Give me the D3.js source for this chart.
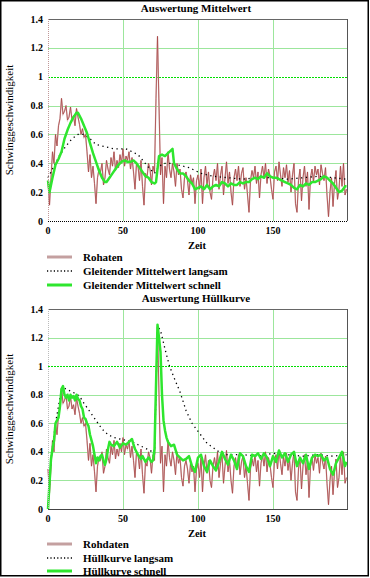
<!DOCTYPE html>
<html>
<head>
<meta charset="utf-8">
<script src="https://cdn.jsdelivr.net/npm/d3@7"></script>
<style>
  body { margin: 0; background: #fff; }
</style>
</head>
<body>
<div id="chart"></div>
<script>
// raw measurement, one value per time step 0..199
let raw = [
  0.28, 0.11, 0.3, 0.48, 0.4, 0.6, 0.52, 0.66, 0.71, 0.85,
  0.74, 0.76, 0.8, 0.7, 0.72, 0.79, 0.7, 0.73, 0.66, 0.78,
  0.72, 0.67, 0.6, 0.64, 0.58, 0.6, 0.48, 0.34, 0.46, 0.3,
  0.38, 0.26, 0.12, 0.3, 0.36, 0.34, 0.4, 0.25, 0.3, 0.42,
  0.36, 0.32, 0.44, 0.38, 0.48, 0.35, 0.42, 0.37, 0.46, 0.4,
  0.5, 0.38, 0.45, 0.42, 0.48, 0.36, 0.44, 0.34, 0.22, 0.4,
  0.38, 0.28, 0.42, 0.24, 0.11, 0.33, 0.3, 0.4, 0.36, 0.25,
  0.38, 0.34, 0.85, 1.28, 0.8, 0.32, 0.44, 0.12, 0.38, 0.3,
  0.48, 0.36, 0.3, 0.4, 0.34, 0.24, 0.4, 0.32, 0.36, 0.22,
  0.16, 0.3, 0.34, 0.28, 0.18, 0.32, 0.26, 0.3, 0.12, 0.28,
  0.32, 0.22, 0.36, 0.12, 0.3, 0.38, 0.25, 0.34, 0.2, 0.15,
  0.3, 0.36, 0.28, 0.4, 0.22, 0.32, 0.38, 0.18, 0.3, 0.41,
  0.26, 0.34, 0.2, 0.11, 0.3, 0.36, 0.28, 0.38, 0.24, 0.33,
  0.37, 0.22, 0.3, 0.18, 0.06, 0.28, 0.35, 0.3, 0.38, 0.26,
  0.34, 0.16, 0.32, 0.38, 0.3, 0.4, 0.26, 0.36, 0.31, 0.22,
  0.15, 0.34, 0.38, 0.28, 0.41, 0.32, 0.24, 0.37, 0.3, 0.39,
  0.27, 0.35, 0.2, 0.32, 0.4, 0.12, 0.06, 0.28, 0.36, 0.14,
  0.3, 0.38, 0.24, 0.34, 0.08, 0.3, 0.36, 0.27, 0.38, 0.32,
  0.36, 0.25, 0.39, 0.33, 0.28, 0.37, 0.18, 0.03, 0.2, 0.3,
  0.1, 0.26, 0.35, 0.15, 0.22, 0.38, 0.24, 0.4, 0.18, 0.22
];

// [zeit, wert] pairs
let meanSlow = [
  [0, 0.3], [4, 0.38], [8, 0.46], [12, 0.52], [16, 0.57], [20, 0.6], [24, 0.6],
  [28, 0.57], [32, 0.53], [36, 0.52], [40, 0.51], [44, 0.5], [48, 0.5], [52, 0.5],
  [56, 0.48], [60, 0.46], [64, 0.41], [68, 0.36], [71, 0.33], [74, 0.38], [78, 0.4],
  [82, 0.4], [86, 0.39], [90, 0.38], [94, 0.37], [98, 0.35], [102, 0.33], [106, 0.32],
  [110, 0.31], [120, 0.3], [130, 0.29], [140, 0.3], [150, 0.3], [160, 0.29],
  [170, 0.3], [180, 0.31], [190, 0.3], [199, 0.29]
];

let meanFast = [
  [0, 0.28], [1, 0.2], [3, 0.3], [5, 0.39], [7, 0.43], [9, 0.48], [11, 0.57], [13, 0.63],
  [15, 0.68], [17, 0.72], [19, 0.75], [20, 0.75], [22, 0.71], [24, 0.66], [26, 0.61],
  [28, 0.54], [30, 0.47], [32, 0.41], [34, 0.35], [36, 0.3], [38, 0.27], [39, 0.27],
  [41, 0.3], [43, 0.33], [45, 0.36], [47, 0.39], [49, 0.41], [51, 0.42], [53, 0.41],
  [55, 0.41], [57, 0.42], [59, 0.4], [61, 0.37], [63, 0.34], [65, 0.31], [67, 0.3],
  [69, 0.27], [71, 0.26], [72, 0.27], [74, 0.45], [76, 0.46], [78, 0.45], [80, 0.47],
  [82, 0.49], [83, 0.5], [84, 0.4], [86, 0.36], [88, 0.33], [90, 0.33], [92, 0.31],
  [94, 0.28], [96, 0.26], [98, 0.22], [100, 0.23], [102, 0.24], [104, 0.22], [106, 0.25],
  [108, 0.22], [110, 0.24], [112, 0.25], [114, 0.24], [116, 0.27], [118, 0.26],
  [120, 0.24], [122, 0.26], [124, 0.25], [126, 0.25], [128, 0.27], [130, 0.26],
  [132, 0.27], [134, 0.27], [136, 0.29], [138, 0.3], [140, 0.29], [142, 0.31],
  [144, 0.3], [146, 0.33], [148, 0.31], [150, 0.3], [152, 0.3], [154, 0.29],
  [156, 0.28], [158, 0.27], [160, 0.26], [162, 0.25], [164, 0.23], [166, 0.22],
  [168, 0.25], [170, 0.24], [172, 0.26], [174, 0.25], [176, 0.27], [178, 0.27],
  [180, 0.28], [182, 0.29], [184, 0.31], [186, 0.3], [188, 0.28], [190, 0.26],
  [192, 0.23], [194, 0.2], [196, 0.21], [198, 0.24], [199, 0.24]
];

let envSlow = [
  [0, 0], [2, 0.35], [5, 0.6], [9, 0.84], [10, 0.85], [14, 0.83], [18, 0.81], [21, 0.79],
  [24, 0.74], [28, 0.68], [32, 0.62], [36, 0.56], [40, 0.52], [44, 0.5], [48, 0.49],
  [52, 0.48], [56, 0.47], [60, 0.45], [64, 0.43], [68, 0.41], [71, 0.39], [73, 1.28],
  [75, 1.25], [78, 1.12], [81, 1.0], [84, 0.92], [88, 0.82], [92, 0.69], [96, 0.6],
  [101, 0.53], [106, 0.46], [110, 0.43], [114, 0.4], [119, 0.38], [130, 0.38],
  [140, 0.37], [150, 0.39], [160, 0.38], [170, 0.37], [180, 0.38], [190, 0.37], [199, 0.38]
];

let envFast = [
  [0, 0], [1, 0.18], [2, 0.35], [3, 0.42], [4, 0.48], [5, 0.6], [6, 0.62], [7, 0.64],
  [8, 0.72], [9, 0.84], [10, 0.86], [11, 0.8], [12, 0.78], [13, 0.8], [14, 0.76],
  [15, 0.8], [16, 0.78], [17, 0.79], [18, 0.76], [19, 0.8], [20, 0.77], [21, 0.76],
  [22, 0.72], [23, 0.7], [24, 0.64], [25, 0.63], [26, 0.6], [27, 0.58], [28, 0.52],
  [29, 0.48], [30, 0.44], [31, 0.38], [32, 0.32], [33, 0.36], [34, 0.34], [35, 0.37],
  [36, 0.38], [37, 0.34], [38, 0.31], [39, 0.35], [40, 0.42], [41, 0.47], [42, 0.45],
  [44, 0.44], [46, 0.47], [48, 0.43], [50, 0.46], [52, 0.45], [54, 0.47], [56, 0.49],
  [57, 0.45], [58, 0.42], [60, 0.38], [62, 0.35], [63, 0.37], [65, 0.33], [67, 0.36],
  [69, 0.33], [70, 0.34], [71, 0.42], [72, 0.86], [73, 1.29], [74, 1.2], [75, 1.1],
  [76, 0.8], [77, 0.62], [78, 0.55], [79, 0.5], [80, 0.47], [82, 0.44], [84, 0.45],
  [86, 0.38], [88, 0.36], [90, 0.34], [92, 0.35], [94, 0.37], [96, 0.3], [98, 0.26],
  [100, 0.36], [102, 0.38], [104, 0.3], [106, 0.26], [108, 0.34], [110, 0.3], [112, 0.27],
  [114, 0.33], [116, 0.4], [118, 0.35], [120, 0.31], [122, 0.38], [124, 0.34], [126, 0.28],
  [128, 0.39], [130, 0.37], [132, 0.3], [134, 0.26], [136, 0.38], [138, 0.37], [140, 0.39],
  [142, 0.35], [144, 0.39], [146, 0.36], [148, 0.3], [150, 0.37], [152, 0.33], [154, 0.41],
  [156, 0.36], [158, 0.39], [160, 0.33], [162, 0.38], [164, 0.4], [166, 0.3], [168, 0.36],
  [170, 0.32], [172, 0.38], [174, 0.28], [176, 0.36], [178, 0.38], [180, 0.37], [182, 0.38],
  [184, 0.34], [186, 0.36], [188, 0.28], [190, 0.24], [192, 0.32], [194, 0.36], [196, 0.4],
  [198, 0.3], [199, 0.33]
];

let xTicks = [0, 50, 100, 150];
let yTicks = [0, 0.2, 0.4, 0.6, 0.8, 1, 1.2, 1.4];
let yTickLabels = ["0", "0.2", "0.4", "0.6", "0.8", "1", "1.2", "1.4"];

let W = 370, H = 578;
let svg = d3.select("#chart").append("svg")
    .attr("width", W)
    .attr("height", H)
    .attr("font-family", "'Liberation Serif', 'DejaVu Serif', 'Times New Roman', serif");

let rawPts = raw.map(function(v, i) { return [i, v]; });

function drawPanel(p) {
  let x = d3.scaleLinear().domain([0, 200]).range([48, 348]);
  let y = d3.scaleLinear().domain([0, 1.4]).range([p.bottom, p.top]);
  let g = svg.append("g");

  // gridlines
  g.selectAll(".hg").data(yTicks.filter(function(d) { return d > 0 && d < 1.4; }))
    .enter().append("line")
      .attr("x1", x(0)).attr("x2", x(200))
      .attr("y1", function(d) { return Math.round(y(d)) + 0.5; })
      .attr("y2", function(d) { return Math.round(y(d)) + 0.5; })
      .attr("stroke", function(d) { return d === 1 ? "#00dd00" : "#9ce69c"; })
      .attr("stroke-dasharray", function(d) { return d === 1 ? "2,1" : null; });
  g.selectAll(".vg").data(xTicks.filter(function(d) { return d > 0; }))
    .enter().append("line")
      .attr("y1", y(0)).attr("y2", y(1.4))
      .attr("x1", function(d) { return Math.round(x(d)) + 0.5; })
      .attr("x2", function(d) { return Math.round(x(d)) + 0.5; })
      .attr("stroke", "#9ce69c");

  let line = d3.line()
    .x(function(d) { return x(d[0]); })
    .y(function(d) { return y(d[1]); });

  // raw data: pale halo + dark core
  g.append("path").datum(rawPts)
    .attr("d", line).attr("fill", "none")
    .attr("stroke", "#dcc0c0").attr("stroke-width", 1.4);
  g.append("path").datum(rawPts)
    .attr("d", line).attr("fill", "none")
    .attr("stroke", "#a84444").attr("stroke-width", 0.8);

  g.append("path").datum(p.slow)
    .attr("d", line).attr("fill", "none")
    .attr("stroke", "#000").attr("stroke-width", 1.3)
    .attr("stroke-dasharray", "1.3,3.5");

  g.append("path").datum(p.fast)
    .attr("d", line).attr("fill", "none")
    .attr("stroke", "#2ee62e").attr("stroke-width", 2.5)
    .attr("stroke-linejoin", "round");

  // frame
  g.append("line").attr("x1", x(0)).attr("x2", x(200)).attr("y1", y(1.4) + 0.5).attr("y2", y(1.4) + 0.5)
    .attr("stroke", "#666");
  g.append("line").attr("x1", x(200) - 0.5).attr("x2", x(200) - 0.5).attr("y1", y(1.4)).attr("y2", y(0))
    .attr("stroke", "#555");
  g.append("line").attr("x1", x(0) + 0.5).attr("x2", x(0) + 0.5).attr("y1", y(1.4)).attr("y2", y(0))
    .attr("stroke", p.leftColor).attr("stroke-dasharray", "1,1");
  g.append("line").attr("x1", x(0)).attr("x2", x(200)).attr("y1", y(0) + 0.5).attr("y2", y(0) + 0.5)
    .attr("stroke", p.bottomColor).attr("stroke-width", 1.2)
    .attr("stroke-dasharray", p.bottomDash);

  // tick labels
  g.selectAll(".yl").data(yTicks).enter().append("text")
    .attr("x", 43).attr("y", function(d) { return y(d) + 3.5; })
    .attr("text-anchor", "end")
    .attr("font-size", "10px").attr("font-weight", "bold")
    .text(function(d, i) { return yTickLabels[i]; });
  g.selectAll(".xl").data(xTicks).enter().append("text")
    .attr("x", function(d) { return x(d); }).attr("y", p.bottom + 13)
    .attr("text-anchor", "middle")
    .attr("font-size", "10px").attr("font-weight", "bold")
    .text(function(d) { return d; });

  g.append("text").attr("x", 197).attr("y", p.bottom + 28)
    .attr("text-anchor", "middle")
    .attr("font-size", "10.5px").attr("font-weight", "bold")
    .text("Zeit");

  g.append("text")
    .attr("transform", "translate(13," + ((p.top + p.bottom) / 2) + ") rotate(-90)")
    .attr("text-anchor", "middle")
    .attr("font-size", "11px")
    .text("Schwinggeschwindigkeit");

  g.append("text").attr("x", 196).attr("y", p.top - 7)
    .attr("text-anchor", "middle")
    .attr("font-size", "11px").attr("font-weight", "bold")
    .text(p.title);

  // legend
  let styles = [
    {stroke: "#c4a0a0", width: 3, dash: null},
    {stroke: "#000", width: 1.3, dash: "1.2,2.2"},
    {stroke: "#2ee62e", width: 3, dash: null}
  ];
  p.legend.forEach(function(name, i) {
    let ly = p.legendY[i];
    g.append("line").attr("x1", 47).attr("x2", 72).attr("y1", ly).attr("y2", ly)
      .attr("stroke", styles[i].stroke).attr("stroke-width", styles[i].width)
      .attr("stroke-dasharray", styles[i].dash);
    g.append("text").attr("x", 83).attr("y", ly + 4)
      .attr("font-size", "11px").attr("font-weight", "bold")
      .text(name);
  });
}

drawPanel({
  top: 19, bottom: 221,
  title: "Auswertung Mittelwert",
  slow: meanSlow, fast: meanFast,
  leftColor: "#c09898", bottomColor: "#000", bottomDash: "1,1",
  legend: ["Rohaten", "Gleitender Mittelwert langsam", "Gleitender Mittelwert schnell"],
  legendY: [257, 271, 285]
});

drawPanel({
  top: 309, bottom: 509,
  title: "Auswertung Hüllkurve",
  slow: envSlow, fast: envFast,
  leftColor: "#bbbbbb", bottomColor: "#444", bottomDash: null,
  legend: ["Rohdaten", "Hüllkurve langsam", "Hüllkurve schnell"],
  legendY: [544, 558, 571]
});

// outer border
svg.append("rect")
  .attr("x", 0.75).attr("y", 0.75)
  .attr("width", 367.5).attr("height", 575)
  .attr("fill", "none").attr("stroke", "#000").attr("stroke-width", 1.5);
</script>
</body>
</html>
